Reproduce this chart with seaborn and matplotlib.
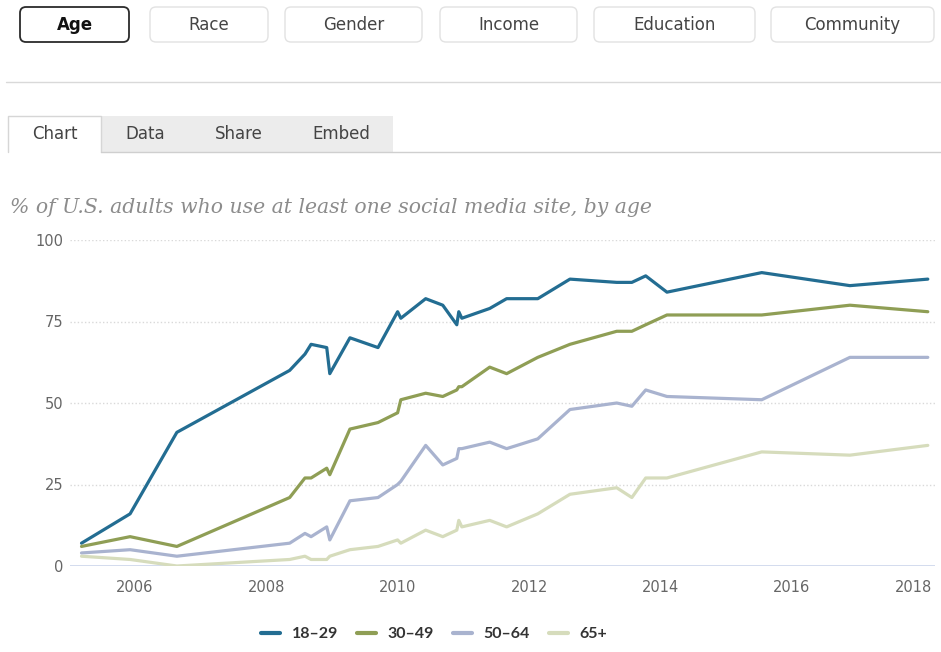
import matplotlib
matplotlib.use("Agg")
import matplotlib.pyplot as plt
import matplotlib.transforms as mtransforms
from matplotlib.patches import FancyBboxPatch, Rectangle
from matplotlib.lines import Line2D
import pandas as pd
import seaborn as sns

# Survey dates and share of adults using social media, by age group
survey_dates = [
    "2005-03-10", "2005-12-05", "2006-08-22", "2008-05-10", "2008-08-03",
    "2008-09-06", "2008-12-02", "2008-12-19", "2009-04-10", "2009-09-13",
    "2009-12-31", "2010-01-18", "2010-06-05", "2010-09-08", "2010-11-25",
    "2010-12-06", "2010-12-23", "2011-05-27", "2011-08-29", "2012-02-18",
    "2012-08-15", "2013-05-02", "2013-07-25", "2013-10-10", "2014-02-05",
    "2015-07-17", "2016-11-18", "2018-01-25",
]
share_18_29 = [7, 16, 41, 60, 65, 68, 67, 59, 70, 67, 78, 76, 82, 80, 74,
               78, 76, 79, 82, 82, 88, 87, 87, 89, 84, 90, 86, 88]
share_30_49 = [6, 9, 6, 21, 27, 27, 30, 28, 42, 44, 47, 51, 53, 52, 54,
               55, 55, 61, 59, 64, 68, 72, 72, 74, 77, 77, 80, 78]
share_50_64 = [4, 5, 3, 7, 10, 9, 12, 8, 20, 21, 25, 26, 37, 31, 33,
               36, 36, 38, 36, 39, 48, 50, 49, 54, 52, 51, 64, 64]
share_65_plus = [3, 2, 0, 2, 3, 2, 2, 3, 5, 6, 8, 7, 11, 9, 11,
                 14, 12, 14, 12, 16, 22, 24, 21, 27, 27, 35, 34, 37]

age_groups = ["18\u201329", "30\u201349", "50\u201364", "65+"]
age_colors = ["#236d92", "#8f9e55", "#a9b3cf", "#d6dcbc"]
year_ticks = [2006, 2008, 2010, 2012, 2014, 2016, 2018]
value_ticks = [0, 25, 50, 75, 100]

filter_buttons = ["Age", "Race", "Gender", "Income", "Education", "Community"]
tab_labels = ["Chart", "Data", "Share", "Embed"]
chart_title = "% of U.S. adults who use at least one social media site, by age"

# Long-form table for seaborn
wide = pd.DataFrame({
    "date": pd.to_datetime(survey_dates),
    age_groups[0]: share_18_29,
    age_groups[1]: share_30_49,
    age_groups[2]: share_50_64,
    age_groups[3]: share_65_plus,
})
long_df = wide.melt(id_vars="date", var_name="age", value_name="share")

sns.set_style("white")
plt.rcParams["font.family"] = ["DejaVu Sans"]

W, H = 941, 652
fig = plt.figure(figsize=(W / 100, H / 100), dpi=100)
fig.patch.set_facecolor("white")

# Page chrome drawn in pixel coordinates
ui = fig.add_axes([0, 0, 1, 1], zorder=0)
ui.set_xlim(0, W)
ui.set_ylim(H, 0)
ui.axis("off")

button_spans = [(20, 129), (150, 268), (285, 422), (440, 577), (594, 755), (771, 934)]
narrow = ["Liberation Sans Narrow", "DejaVu Sans"]
for label, (x0, x1) in zip(filter_buttons, button_spans):
    selected = label == "Age"
    ui.add_patch(FancyBboxPatch(
        (x0, 7), x1 - x0, 35,
        boxstyle="round,pad=0,rounding_size=6",
        facecolor="white",
        edgecolor="#2b2b2b" if selected else "#e2e2e2",
        linewidth=1.3 if selected else 1.0,
    ))
    ui.text((x0 + x1) / 2, 25, label, ha="center", va="center",
            fontsize=12, family=narrow,
            fontweight="bold" if selected else "normal",
            color="#111111" if selected else "#444444")

ui.plot([6, W], [82, 82], color="#d9d9d9", lw=1)

tab_spans = [(8, 101), (101, 189), (189, 289), (289, 393)]
for label, (x0, x1) in zip(tab_labels, tab_spans):
    if label == "Chart":
        ui.plot([x0, x0, x1, x1], [152, 116, 116, 152], color="#d6d6d6", lw=1)
    else:
        ui.add_patch(Rectangle((x0, 116), x1 - x0, 36, facecolor="#ececec",
                               edgecolor="none"))
    ui.text((x0 + x1) / 2, 134, label, ha="center", va="center",
            fontsize=12, family=narrow, color="#444444")
ui.plot([101, W], [152, 152], color="#cfcfcf", lw=1)

fig.text(10 / W, 1 - 207 / H, chart_title, ha="left", va="center",
         fontsize=14.7, family=["DejaVu Serif"], style="italic", color="#8c8c8c")

# Line chart
left, right, top, bottom = 70, 935, 240, 566
ax = fig.add_axes([left / W, 1 - bottom / H, (right - left) / W, (bottom - top) / H],
                  zorder=2)
ax.patch.set_alpha(0)

palette = dict(zip(age_groups, age_colors))
sns.lineplot(data=long_df, x="date", y="share", hue="age", hue_order=age_groups,
             palette=palette, linewidth=2.3, legend=False, ax=ax, zorder=3)

ax.set_ylim(0, 100)
ax.set_xlim(pd.Timestamp("2005-01-05"), pd.Timestamp("2018-03-06"))
ax.set_yticks(value_ticks)
ax.set_yticklabels([str(v) for v in value_ticks])
ax.set_xticks([pd.Timestamp(f"{y}-01-01") for y in year_ticks])
ax.set_xticklabels([str(y) for y in year_ticks])
ax.set_xlabel("")
ax.set_ylabel("")

for v in value_ticks[1:]:
    ax.axhline(v, color="#d9d9d9", lw=1.0, linestyle=(0, (1, 1.6)), zorder=1)
ax.axhline(0, color="#ccd6eb", lw=1.2, zorder=2)

for s in ax.spines.values():
    s.set_visible(False)
ax.tick_params(axis="both", length=0, labelsize=10.5, labelcolor="#666666")
ax.tick_params(axis="y", pad=5)
ax.tick_params(axis="x", pad=10)

# Keep the last year label inside the figure
last = ax.get_xticklabels()[-1]
last.set_transform(last.get_transform() +
                   mtransforms.ScaledTranslation(-10 / 100, 0, fig.dpi_scale_trans))

handles = [Line2D([0], [0], color=c, lw=3) for c in age_colors]
fig.legend(handles, age_groups, loc="center",
           bbox_to_anchor=(434 / W, 1 - 634 / H), ncol=4, frameon=False,
           prop={"family": ["Lato", "DejaVu Sans"], "weight": "bold", "size": 11.5},
           labelcolor="#333333", handlelength=1.2, handletextpad=0.7,
           columnspacing=1.2)

fig.savefig("out.png", dpi=100, facecolor="white")
